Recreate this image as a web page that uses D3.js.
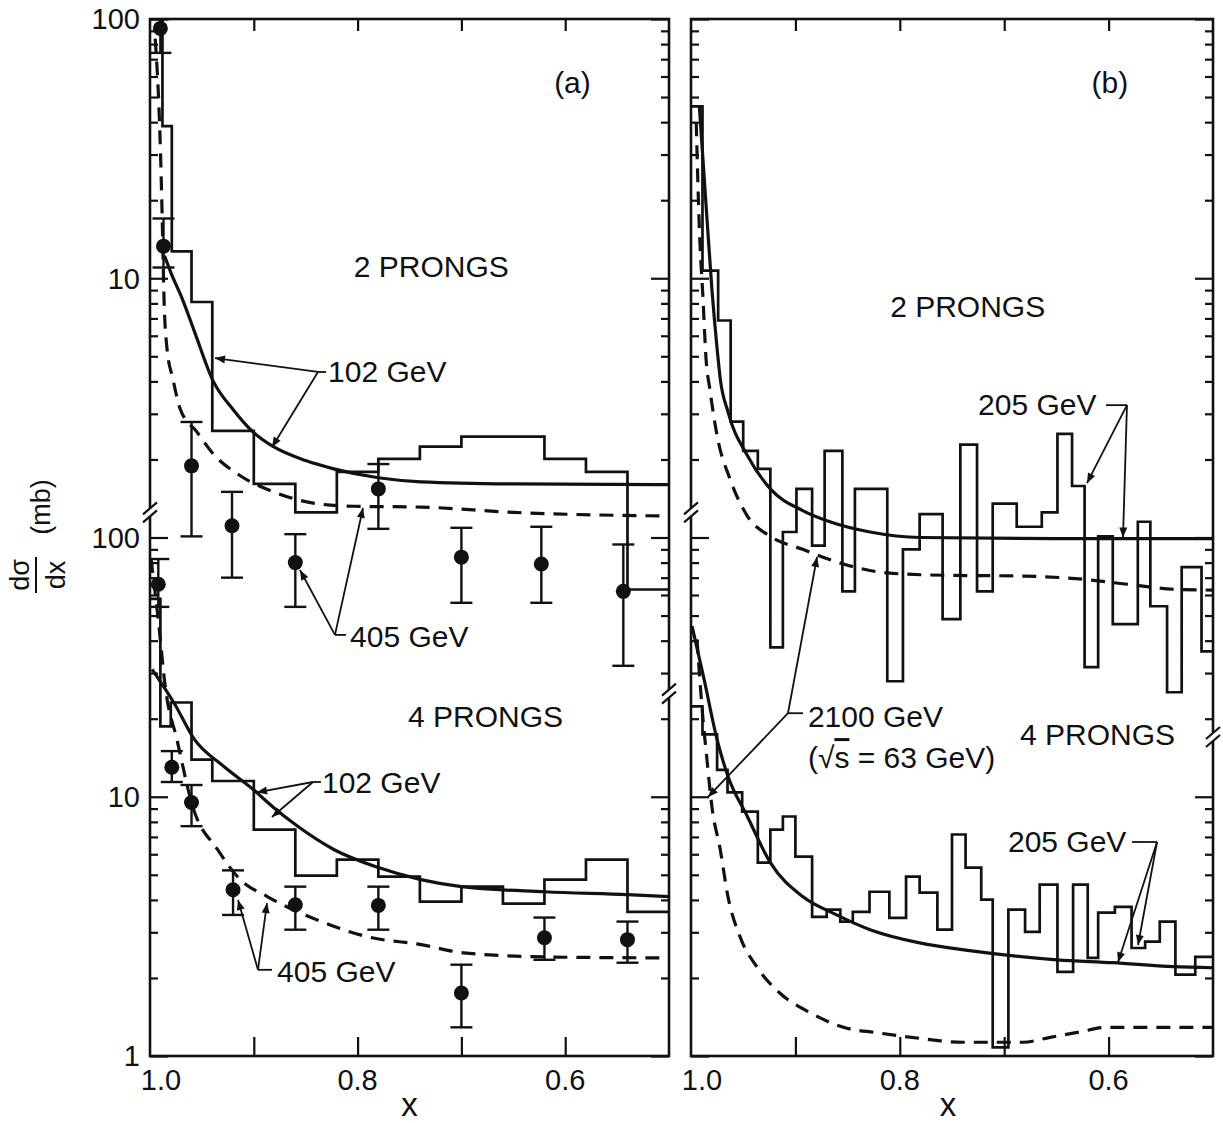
<!DOCTYPE html>
<html>
<head>
<meta charset="utf-8">
<title>dσ/dx vs x</title>
<script src="https://cdn.jsdelivr.net/npm/d3@7"></script>
<style>
  body { margin: 0; background: #fff; }
  text { font-family: "Liberation Sans", Arial, sans-serif; fill: #111; }
</style>
</head>
<body>
<svg id="chart" width="1223" height="1123"></svg>
<script>
// values
// histograms: bin edges in x + heights in mb; curves: [x, mb]; points: [x, mb, low, high]

// (a) 2 prongs
const a2HistEdges = [1.0, 0.988, 0.979, 0.96, 0.94, 0.90, 0.86, 0.82, 0.78, 0.74, 0.70, 0.66, 0.62, 0.58, 0.54, 0.50]
const a2Hist102 = [100, 38.6, 12.7, 8.1, 2.58, 1.61, 1.25, 1.79, 2.01, 2.24, 2.45, 2.45, 2.01, 1.79, 0.63]
const a2Curve102 = [[0.986,12.2],[0.979,10.3],[0.969,8.35],[0.957,6.2],[0.939,4.0],[0.92,3.12],[0.901,2.56],[0.881,2.24],[0.85,1.98],[0.823,1.84],[0.78,1.7],[0.739,1.64],[0.65,1.61],[0.5,1.6]]
const a2Curve405 = [[0.995,84],[0.990,31.7],[0.988,15.6],[0.9865,8.35],[0.9836,5.35],[0.978,4.1],[0.971,3.14],[0.955,2.56],[0.939,2.1],[0.913,1.73],[0.881,1.5],[0.839,1.35],[0.804,1.32],[0.739,1.31],[0.65,1.25],[0.5,1.21]]
const a2Points405 = [[0.99,92,74,100],[0.987,13.3,11,17],[0.96,1.89,1.01,2.79],[0.921,1.11,0.70,1.5],[0.86,0.80,0.54,1.03],[0.78,1.54,1.08,1.92],[0.70,0.84,0.56,1.09],[0.623,0.79,0.56,1.10],[0.544,0.62,0.32,0.94]]

// (a) 4 prongs
const a4HistEdges = [1.0, 0.99, 0.98, 0.96, 0.94, 0.90, 0.86, 0.82, 0.78, 0.74, 0.70, 0.66, 0.62, 0.58, 0.54, 0.50]
const a4Hist102 = [58, 18.7, 23.1, 13.9, 11.5, 7.47, 4.96, 5.72, 4.92, 3.94, 4.5, 3.87, 4.79, 5.72, 3.6]
const a4Curve102 = [[0.998,31],[0.976,22.7],[0.957,16.6],[0.93,13.2],[0.901,10.7],[0.881,9.09],[0.86,7.81],[0.823,6.26],[0.78,5.33],[0.739,4.79],[0.70,4.5],[0.62,4.3],[0.54,4.19],[0.5,4.12]]
const a4Curve405 = [[0.999,82.6],[0.992,48],[0.985,26],[0.974,16.6],[0.959,9.2],[0.935,6.26],[0.913,4.79],[0.887,4.12],[0.839,3.35],[0.79,2.88],[0.739,2.69],[0.698,2.5],[0.617,2.41],[0.5,2.39]]
const a4Points405 = [[0.992,66,54,82.6],[0.979,13.0,11.4,15],[0.96,9.5,7.7,11.1],[0.92,4.38,3.5,5.2],[0.86,3.83,3.07,4.5],[0.78,3.81,3.07,4.5],[0.70,1.75,1.29,2.25],[0.62,2.86,2.35,3.42],[0.54,2.81,2.29,3.3]]

// (b) 2 prongs
const b2HistEdges = [1.0, 0.989, 0.974, 0.962, 0.950, 0.936, 0.924, 0.912, 0.899, 0.884, 0.872, 0.855, 0.843, 0.812, 0.797, 0.781, 0.759, 0.742, 0.726, 0.711, 0.688, 0.664, 0.649, 0.635, 0.623, 0.610, 0.596, 0.572, 0.560, 0.544, 0.530, 0.511, 0.5]
const b2Hist205 = [46, 10.7, 6.87, 2.80, 2.16, 1.84, 0.377, 1.05, 1.54, 0.93, 2.16, 0.62, 1.54, 0.279, 0.90, 1.23, 0.484, 2.28, 0.62, 1.35, 1.10, 1.25, 2.51, 1.58, 0.316, 1.01, 0.463, 1.15, 0.543, 0.253, 0.769, 0.364]
const b2Curve205 = [[0.992,46],[0.986,20.3],[0.980,9.1],[0.975,5.35],[0.972,4.1],[0.9646,3.05],[0.946,2.07],[0.924,1.54],[0.893,1.27],[0.867,1.15],[0.8285,1.05],[0.78,1.0],[0.65,0.99],[0.5,0.99]]
const b2Curve2100 = [[0.995,40],[0.992,15.6],[0.9885,8.35],[0.9856,4.9],[0.982,3.75],[0.975,2.47],[0.9626,1.68],[0.946,1.21],[0.924,1.01],[0.893,0.90],[0.854,0.79],[0.812,0.73],[0.758,0.715],[0.682,0.71],[0.6245,0.69],[0.582,0.66],[0.532,0.63],[0.5,0.627]]

// (b) 4 prongs
const b4HistEdges = [1.0, 0.989, 0.975, 0.965, 0.951, 0.936, 0.924, 0.912, 0.900, 0.884, 0.870, 0.857, 0.845, 0.829, 0.810, 0.794, 0.781, 0.764, 0.750, 0.737, 0.722, 0.711, 0.696, 0.680, 0.666, 0.649, 0.634, 0.620, 0.610, 0.594, 0.578, 0.565, 0.551, 0.536, 0.517, 0.5]
const b4Hist205 = [22.3, 17.4, 12.7, 10.4, 8.77, 5.57, 7.47, 8.39, 5.88, 3.44, 3.67, 3.30, 3.60, 4.30, 3.41, 4.92, 4.27, 3.07, 7.15, 5.33, 4.01, 1.08, 3.67, 3.01, 4.58, 2.11, 4.58, 2.39, 3.57, 3.76, 2.61, 2.76, 3.30, 2.06, 2.41]
const b4Curve205 = [[0.999,45.5],[0.9875,28.4],[0.975,16.6],[0.9646,12.0],[0.946,8.39],[0.924,5.57],[0.893,4.12],[0.861,3.51],[0.8285,3.07],[0.781,2.73],[0.733,2.55],[0.6494,2.35],[0.596,2.29],[0.538,2.21],[0.5,2.19]]
const b4Curve2100 = [[0.9943,40.5],[0.9885,19.9],[0.9847,13.9],[0.98,9.17],[0.972,6.26],[0.9646,4.12],[0.953,2.88],[0.937,2.21],[0.915,1.75],[0.886,1.47],[0.854,1.29],[0.822,1.23],[0.781,1.17],[0.74,1.13],[0.682,1.13],[0.656,1.18],[0.627,1.24],[0.6015,1.29],[0.554,1.29],[0.5,1.29]]

// axis labels
const xTickLabels = [1.0, 0.8, 0.6]
const xTicks = [0.9, 0.8, 0.7, 0.6]
const yTickLabels = [['up', 100, '100'], ['up', 10, '10'], ['low', 100, '100'], ['low', 10, '10'], ['low', 1, '1']]

// annotations: [panel, text, x, region, mb, anchor]
const annTexts = [
  ['a', '(a)', 0.593, 'up', 52, 'middle'],
  ['a', '2 PRONGS', 0.729, 'up', 10.1, 'middle'],
  ['a', '102 GeV', 0.8285, 'up', 3.98, 'start'],
  ['a', '405 GeV', 0.8073, 'up', 0.378, 'start'],
  ['a', '4 PRONGS', 0.7514, 'low', 18.6, 'start'],
  ['a', '102 GeV', 0.8343, 'low', 10.3, 'start'],
  ['a', '405 GeV', 0.8776, 'low', 1.93, 'start'],
  ['b', '(b)', 0.5987, 'up', 52, 'middle'],
  ['b', '2 PRONGS', 0.735, 'up', 7.09, 'middle'],
  ['b', '205 GeV', 0.725, 'up', 2.97, 'start'],
  ['b', '2100 GeV', 0.888, 'low', 18.6, 'start'],
  ['b', '4 PRONGS', 0.6849, 'low', 15.8, 'start'],
  ['b', '205 GeV', 0.6964, 'low', 6.12, 'start']
]
// [panel, from, to, arrowhead]
const annLines = [
  ['a', [0.8304,'up',4.35], [0.8382,'up',4.35], false],
  ['a', [0.8382,'up',4.35], [0.9374,'up',4.92], true],
  ['a', [0.8382,'up',4.35], [0.8825,'up',2.23], true],
  ['a', [0.8112,'up',0.421], [0.8218,'up',0.421], false],
  ['a', [0.8218,'up',0.421], [0.8555,'up',0.749], true],
  ['a', [0.8218,'up',0.421], [0.7948,'up',1.30], true],
  ['a', [0.8353,'low',11.4], [0.843,'low',11.4], false],
  ['a', [0.843,'low',11.4], [0.8969,'low',10.4], true],
  ['a', [0.843,'low',11.4], [0.8825,'low',8.35], true],
  ['a', [0.8825,'low',2.15], [0.896,'low',2.15], false],
  ['a', [0.896,'low',2.15], [0.9152,'low',4.0], true],
  ['a', [0.896,'low',2.15], [0.8873,'low',3.89], true],
  ['b', [0.6025,'up',3.24], [0.5824,'up',3.24], false],
  ['b', [0.5824,'up',3.24], [0.6207,'up',1.62], true],
  ['b', [0.5824,'up',3.24], [0.5862,'up',1.0], true],
  ['b', [0.8927,'low',21], [0.9071,'low',21], false],
  ['b', [0.9071,'low',21], [0.8793,'up',0.841], true],
  ['b', [0.9071,'low',21], [0.9837,'low',9.98], true],
  ['b', [0.5776,'low',6.69], [0.5536,'low',6.69], false],
  ['b', [0.5536,'low',6.69], [0.591,'low',2.30], true],
  ['b', [0.5536,'low',6.69], [0.5718,'low',2.68], true]
]
// axis breaks: [panel, side, value on 4-prong scale]
const axisBreaks = [['a','left',125], ['a','right',25], ['b','left',125], ['b','right',17]]

const svg = d3.select('#chart')
const ink = '#111'
const yTop = 19, yBottom = 1056

// one log axis; the 2-prong block is two decades above the 4-prong block
const yLow = d3.scaleLog().domain([1, 1e4]).range([yBottom, yTop])
const yUp = d3.scaleLog().domain([0.01, 100]).range([yBottom, yTop])
const yr = { up: yUp, low: yLow }

const panels = {
  a: { x: d3.scaleLinear().domain([1, 0.5]).range([150, 669]) },
  b: { x: d3.scaleLinear().domain([1, 0.5]).range([691, 1213]) }
}

const defs = svg.append('defs')
defs.append('marker').attr('id', 'head')
  .attr('viewBox', '0 0 10 10').attr('refX', 10).attr('refY', 5)
  .attr('markerWidth', 13).attr('markerHeight', 10)
  .attr('markerUnits', 'userSpaceOnUse').attr('orient', 'auto')
  .append('path').attr('d', 'M0,1 L10,5 L0,9 Z').attr('fill', ink)

Object.keys(panels).forEach(k => {
  const [l, r] = panels[k].x.range()
  defs.append('clipPath').attr('id', 'clip-' + k)
    .append('rect').attr('x', l).attr('y', yTop).attr('width', r - l).attr('height', yBottom - yTop)
})

function histogram(p, region, edges, vals) {
  const x = panels[p].x, y = yr[region]
  const pts = vals.map((v, i) => [edges[i], v])
  pts.push([edges[edges.length - 1], vals[vals.length - 1]])
  const line = d3.line().x(d => x(d[0])).y(d => y(d[1])).curve(d3.curveStepAfter)
  svg.append('path').attr('clip-path', `url(#clip-${p})`)
    .attr('d', line(pts)).attr('fill', 'none').attr('stroke', ink)
    .attr('stroke-width', 2.7).attr('stroke-linejoin', 'miter')
}

function curve(p, region, pts, dashed) {
  const x = panels[p].x, y = yr[region]
  const line = d3.line().x(d => x(d[0])).y(d => y(d[1])).curve(d3.curveMonotoneX)
  svg.append('path').attr('clip-path', `url(#clip-${p})`)
    .attr('d', line(pts)).attr('fill', 'none').attr('stroke', ink)
    .attr('stroke-width', 3.2)
    .attr('stroke-dasharray', dashed ? '14 9' : null)
}

function points(p, region, pts) {
  const x = panels[p].x, y = yr[region]
  const g = svg.append('g').attr('clip-path', `url(#clip-${p})`)
  pts.forEach(d => {
    const cx = x(d[0])
    g.append('line').attr('x1', cx).attr('x2', cx).attr('y1', y(d[2])).attr('y2', y(d[3]))
      .attr('stroke', ink).attr('stroke-width', 2.4)
    ;[d[2], d[3]].forEach(v => {
      g.append('line').attr('x1', cx - 11).attr('x2', cx + 11).attr('y1', y(v)).attr('y2', y(v))
        .attr('stroke', ink).attr('stroke-width', 2.4)
    })
    g.append('circle').attr('cx', cx).attr('cy', y(d[1])).attr('r', 7.5).attr('fill', ink)
  })
}

histogram('a', 'up', a2HistEdges, a2Hist102)
curve('a', 'up', a2Curve102, false)
curve('a', 'up', a2Curve405, true)
points('a', 'up', a2Points405)
histogram('a', 'low', a4HistEdges, a4Hist102)
curve('a', 'low', a4Curve102, false)
curve('a', 'low', a4Curve405, true)
points('a', 'low', a4Points405)

histogram('b', 'up', b2HistEdges, b2Hist205)
curve('b', 'up', b2Curve205, false)
curve('b', 'up', b2Curve2100, true)
histogram('b', 'low', b4HistEdges, b4Hist205)
curve('b', 'low', b4Curve205, false)
curve('b', 'low', b4Curve2100, true)

// axes
const majors = [1, 10, 100, 1000, 10000]
const minors = yLow.ticks().filter(v => !majors.includes(v))

Object.keys(panels).forEach(k => {
  const x = panels[k].x
  const [l, r] = x.range()
  const g = svg.append('g')
  const styleAxis = sel => {
    sel.select('.domain').remove()
    sel.selectAll('.tick line').attr('stroke', ink).attr('stroke-width', 2.2)
  }
  g.append('g').attr('transform', `translate(${l},0)`)
    .call(d3.axisRight(yLow).tickValues(minors).tickSize(8).tickFormat('')).call(styleAxis)
  g.append('g').attr('transform', `translate(${l},0)`)
    .call(d3.axisRight(yLow).tickValues(majors).tickSize(18).tickFormat('')).call(styleAxis)
  g.append('g').attr('transform', `translate(${r},0)`)
    .call(d3.axisLeft(yLow).tickValues(minors).tickSize(8).tickFormat('')).call(styleAxis)
  g.append('g').attr('transform', `translate(${r},0)`)
    .call(d3.axisLeft(yLow).tickValues(majors).tickSize(18).tickFormat('')).call(styleAxis)
  g.append('g').attr('transform', `translate(0,${yTop})`)
    .call(d3.axisTop(x).tickValues(xTicks).tickSize(-12).tickFormat('')).call(styleAxis)
  g.append('g').attr('transform', `translate(0,${yBottom})`)
    .call(d3.axisBottom(x).tickValues(xTicks).tickSize(-19).tickFormat('')).call(styleAxis)

  g.append('rect').attr('x', l).attr('y', yTop).attr('width', r - l).attr('height', yBottom - yTop)
    .attr('fill', 'none').attr('stroke', ink).attr('stroke-width', 2.6)

  xTickLabels.forEach(v => {
    g.append('text').attr('x', x(v) + (v === 1 ? 11 : 0)).attr('y', yBottom + 34)
      .attr('text-anchor', 'middle').attr('font-size', 29)
      .text(d3.format('.1f')(v))
  })
  g.append('text').attr('x', x(0.75) + (k === 'a' ? 0 : -4)).attr('y', yBottom + 60)
    .attr('text-anchor', 'middle').attr('font-size', 33).text('x')
})

// breaks in the y axis
axisBreaks.forEach(([p, side, v]) => {
  const [l, r] = panels[p].x.range()
  const bx = side === 'left' ? l : r
  const by = yLow(v)
  svg.append('rect').attr('x', bx - 3).attr('y', by - 4).attr('width', 6).attr('height', 8).attr('fill', '#fff')
  ;[-4, 4].forEach(o => {
    svg.append('line').attr('x1', bx - 7).attr('y1', by + o + 6).attr('x2', bx + 7).attr('y2', by + o - 6)
      .attr('stroke', ink).attr('stroke-width', 2.2)
  })
})

// y tick labels, panel (a) only
yTickLabels.forEach(([reg, v, t]) => {
  svg.append('text').attr('x', 140).attr('y', yr[reg](v)).attr('dy', '0.36em')
    .attr('text-anchor', 'end').attr('font-size', 29).text(t)
})

// y title: dσ/dx (mb)
const gt = svg.append('g').attr('transform', 'translate(38,540) rotate(-90)')
gt.append('text').attr('x', -35).attr('y', -9).attr('text-anchor', 'middle').attr('font-size', 27).text('dσ')
gt.append('line').attr('x1', -53).attr('x2', -17).attr('y1', -2).attr('y2', -2).attr('stroke', ink).attr('stroke-width', 2)
gt.append('text').attr('x', -35).attr('y', 27).attr('text-anchor', 'middle').attr('font-size', 27).text('dx')
gt.append('text').attr('x', 33).attr('y', 12).attr('text-anchor', 'middle').attr('font-size', 27).text('(mb)')

// annotations
annTexts.forEach(([p, t, x, reg, v, anchor]) => {
  svg.append('text').attr('x', panels[p].x(x)).attr('y', yr[reg](v))
    .attr('text-anchor', anchor).attr('font-size', 30).text(t)
})
const sq = svg.append('text').attr('x', panels.b.x(0.888)).attr('y', yLow(12.9)).attr('font-size', 30)
sq.append('tspan').text('(√')
sq.append('tspan').attr('text-decoration', 'overline').text('s')
sq.append('tspan').text(' = 63 GeV)')

annLines.forEach(([p, f, t, head]) => {
  const x = panels[p].x
  svg.append('line')
    .attr('x1', x(f[0])).attr('y1', yr[f[1]](f[2]))
    .attr('x2', x(t[0])).attr('y2', yr[t[1]](t[2]))
    .attr('stroke', ink).attr('stroke-width', 1.8)
    .attr('marker-end', head ? 'url(#head)' : null)
})
</script>
</body>
</html>
